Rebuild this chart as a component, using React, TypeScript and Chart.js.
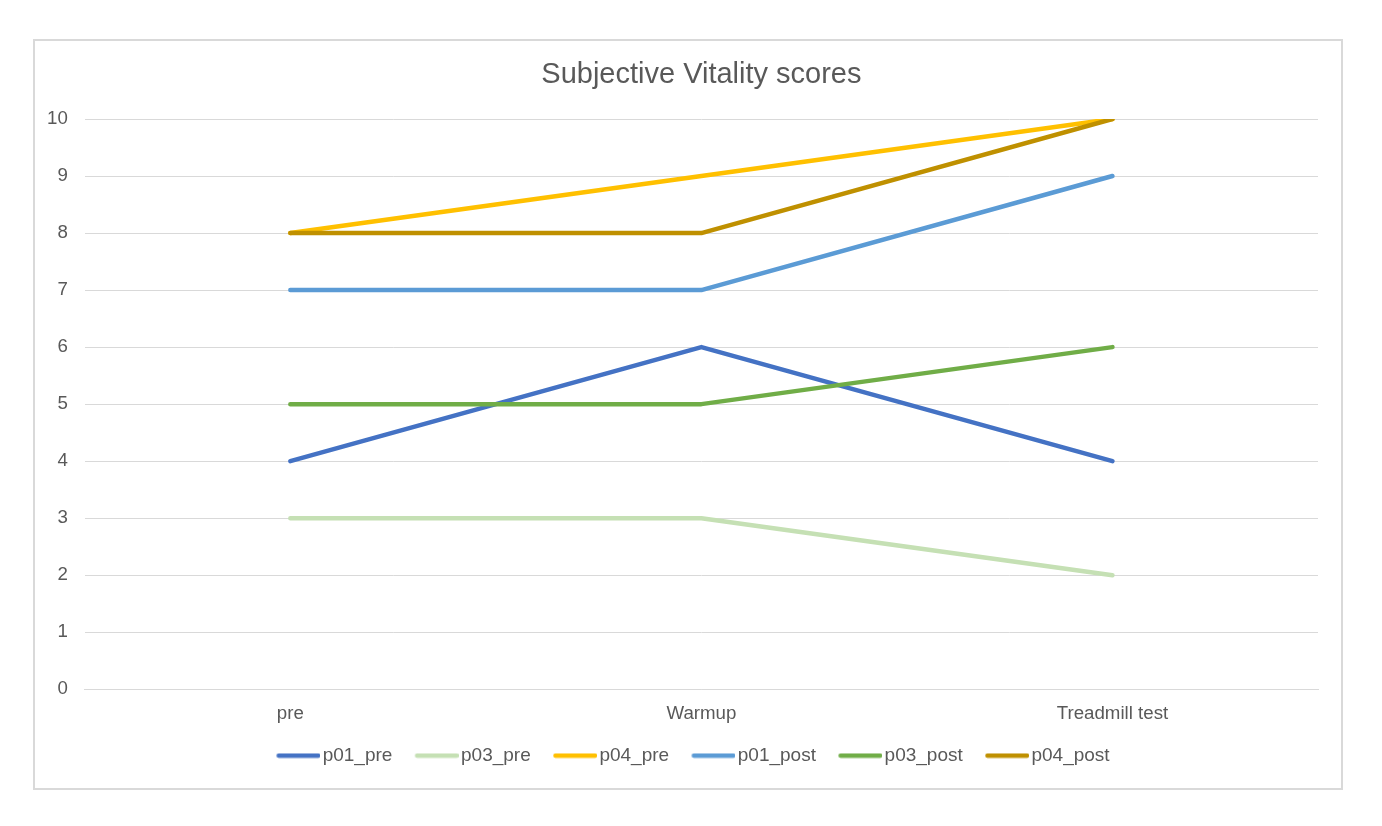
import React, { useEffect, useRef } from "react";
import { Chart, registerables } from "chart.js";

Chart.register(...registerables);

const categories = ["pre", "Warmup", "Treadmill test"];
const seriesNames = ["p01_pre", "p03_pre", "p04_pre", "p01_post", "p03_post", "p04_post"];
const p01Pre = [4, 6, 4];
const p03Pre = [3, 3, 2];
const p04Pre = [8, 9, 10];
const p01Post = [7, 7, 9];
const p03Post = [5, 5, 6];
const p04Post = [8, 8, 10];
const seriesValues = [p01Pre, p03Pre, p04Pre, p01Post, p03Post, p04Post];
const seriesColors = ["#4472C4", "#C5E0B4", "#FFC000", "#5B9BD5", "#70AD47", "#BF9000"];
const yTicks = [0, 1, 2, 3, 4, 5, 6, 7, 8, 9, 10];

const FONT = "'Liberation Sans', Arial, Helvetica, sans-serif";
const TEXT = "#595959";
const GRID = "#d9d9d9";
const LINE_W = 4.5;
const LEGEND_PAD = 7.4;
const LEGEND_FONT = 19;
const BOX_W = 51.75;

function makeSwatch(color: string): HTMLCanvasElement {
  const c = document.createElement("canvas");
  c.width = 66;
  c.height = 6;
  const ctx = c.getContext("2d")!;
  ctx.strokeStyle = color;
  ctx.lineWidth = LINE_W;
  ctx.lineCap = "round";
  ctx.beginPath();
  ctx.moveTo(24.45, 3);
  ctx.lineTo(63.9, 3);
  ctx.stroke();
  return c;
}

export default function App() {
  const ref = useRef<HTMLCanvasElement | null>(null);

  useEffect(() => {
    if (!ref.current) return;
    const swatches = seriesColors.map(makeSwatch);
    const chart = new Chart(ref.current, {
      type: "line",
      data: {
        labels: categories,
        datasets: seriesNames.map((name, i) => ({
          label: name,
          data: seriesValues[i],
          borderColor: seriesColors[i],
          backgroundColor: seriesColors[i],
          borderWidth: LINE_W,
          borderCapStyle: "round" as const,
          borderJoinStyle: "round" as const,
          pointRadius: 0,
          pointHoverRadius: 0,
          tension: 0,
          fill: false,
          order: -i,
          yAxisID: "y",
        })),
      },
      options: {
        animation: false,
        responsive: true,
        maintainAspectRatio: false,
        layout: { padding: { top: 17, left: -5, right: 0, bottom: 12.9 } },
        font: { family: FONT },
        plugins: {
          title: {
            display: true,
            fullSize: false,
            text: "Subjective Vitality scores",
            color: TEXT,
            font: { family: FONT, size: 29, weight: "normal" },
            padding: { top: 0, bottom: 26.2 },
          },
          legend: {
            position: "bottom",
            fullSize: true,
            labels: {
              color: TEXT,
              font: { family: FONT, size: LEGEND_FONT },
              usePointStyle: true,
              pointStyleWidth: BOX_W,
              padding: LEGEND_PAD,
              sort: (a: any, b: any) => a.datasetIndex - b.datasetIndex,
              generateLabels: (ch: any) => {
                const items = Chart.defaults.plugins.legend.labels.generateLabels(ch);
                return items.map((it: any) => ({
                  ...it,
                  pointStyle: swatches[it.datasetIndex],
                }));
              },
            },
          },
          tooltip: { enabled: false },
        },
        scales: {
          x: {
            offset: true,
            grid: { display: false, drawTicks: false },
            border: { display: true, color: GRID, width: 1 },
            ticks: {
              color: TEXT,
              font: { family: FONT, size: 18.7 },
              padding: 13.5,
              maxRotation: 0,
            },
            afterFit: (axis: any) => {
              axis.paddingLeft = 0;
              axis.paddingRight = 0;
            },
          },
          y: {
            min: 0,
            max: 10,
            afterBuildTicks: (axis: any) => {
              axis.ticks = yTicks.map((v) => ({ value: v }));
            },
            grid: { color: GRID, lineWidth: 1, drawTicks: false },
            border: { display: false },
            ticks: {
              color: TEXT,
              font: { family: FONT, size: 18.7 },
              padding: 17,
              stepSize: 1,
            },
          },
          spacer: {
            type: "linear",
            position: "right",
            display: true,
            grid: { display: false, drawTicks: false },
            border: { display: false },
            ticks: { display: false },
            afterFit: (axis: any) => {
              axis.width = 23;
            },
          },
        },
      },
    });
    return () => chart.destroy();
  }, []);

  return (
    <div
      style={{
        position: "absolute",
        left: 33,
        top: 39,
        width: 1310,
        height: 751,
        boxSizing: "border-box",
        border: "2px solid #d9d9d9",
        background: "#ffffff",
      }}
    >
      <div style={{ position: "relative", width: "100%", height: "100%" }}>
        <canvas ref={ref} />
      </div>
    </div>
  );
}
